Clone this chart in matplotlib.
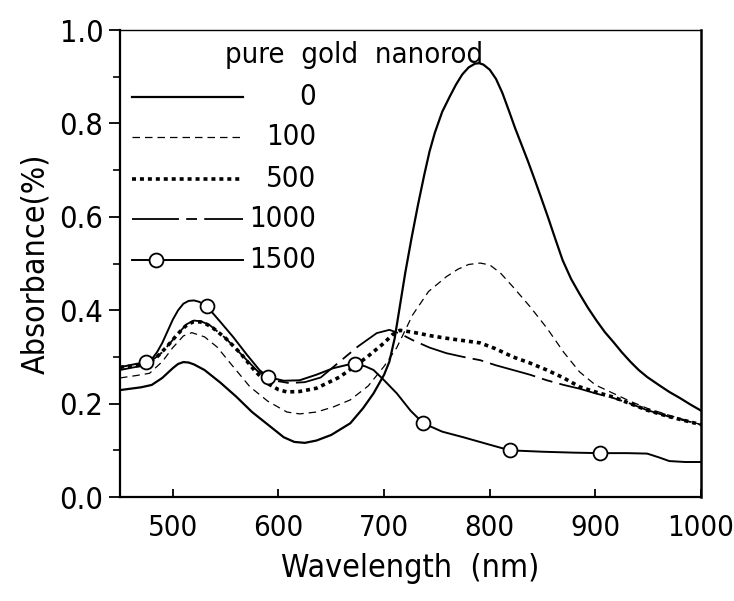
import matplotlib.pyplot as plt
import numpy as np
from matplotlib.lines import Line2D
from matplotlib import font_manager as fm

# look for a narrow sans like the original figure
fonts = fm.fontManager.ttflist
narrow = [f for f in fonts if f.name == 'Liberation Sans Narrow']
cond = [f for f in fonts if f.name == 'DejaVu Sans' and f.stretch == 'condensed']
if narrow:
    plt.rcParams['font.family'] = ['Liberation Sans Narrow', 'DejaVu Sans']
    fs = 24
elif cond:
    plt.rcParams['font.family'] = ['DejaVu Sans']
    plt.rcParams['font.stretch'] = 'condensed'
    fs = 22
else:
    plt.rcParams['font.family'] = ['Liberation Sans', 'DejaVu Sans']
    fs = 20

# pure gold nanorod, 0
wl_0 = [450, 470, 480, 490, 500, 505, 510, 515, 520, 530, 545, 560, 575, 590, 605, 615, 625, 636, 650,
        668, 680, 690, 700, 705, 710, 715, 720, 726, 732, 738, 743, 748, 755, 762, 768, 774, 780, 786,
        790, 794, 800, 806, 812, 818, 824, 830, 836, 842, 848, 855, 862, 869, 877, 885, 893, 901, 909,
        917, 925, 933, 941, 949, 960, 970, 980, 990, 1000]
abs_0 = [0.229, 0.235, 0.240, 0.255, 0.276, 0.285, 0.289, 0.288, 0.284, 0.272, 0.245, 0.215, 0.182,
         0.155, 0.128, 0.118, 0.116, 0.121, 0.133, 0.158, 0.190, 0.222, 0.262, 0.290, 0.340, 0.410,
         0.480, 0.555, 0.625, 0.690, 0.740, 0.780, 0.825, 0.857, 0.883, 0.905, 0.920, 0.928, 0.929,
         0.926, 0.915, 0.895, 0.865, 0.828, 0.790, 0.755, 0.720, 0.683, 0.645, 0.600, 0.553, 0.507,
         0.467, 0.435, 0.405, 0.378, 0.353, 0.332, 0.310, 0.290, 0.272, 0.257, 0.240, 0.225, 0.212,
         0.198, 0.185]

# 100
wl_100 = [450, 465, 478, 490, 500, 510, 518, 530, 542, 555, 573, 590, 608, 620, 636, 652, 668, 685, 700,
          712, 727, 742, 759, 770, 780, 791, 800, 810, 822, 838, 854, 870, 885, 900, 917, 933, 949, 970,
          1000]
abs_100 = [0.255, 0.260, 0.265, 0.290, 0.320, 0.345, 0.352, 0.343, 0.321, 0.285, 0.236, 0.205, 0.182,
           0.178, 0.182, 0.193, 0.208, 0.238, 0.280, 0.320, 0.390, 0.440, 0.472, 0.488, 0.498, 0.501,
           0.497, 0.480, 0.450, 0.408, 0.362, 0.310, 0.268, 0.240, 0.222, 0.205, 0.190, 0.175, 0.155]

# 500
wl_500 = [450, 475, 485, 494, 505, 512, 519, 526, 532, 538, 550, 564, 577, 589, 600, 608, 620, 636, 658,
          672, 684, 700, 708, 715, 727, 745, 759, 775, 791, 805, 822, 838, 854, 870, 885, 900, 917, 933,
          949, 970, 1000]
abs_500 = [0.278, 0.283, 0.300, 0.321, 0.350, 0.366, 0.375, 0.375, 0.370, 0.362, 0.340, 0.308, 0.272,
           0.244, 0.230, 0.225, 0.226, 0.233, 0.257, 0.280, 0.300, 0.330, 0.348, 0.357, 0.353, 0.345,
           0.340, 0.335, 0.330, 0.318, 0.300, 0.287, 0.272, 0.255, 0.236, 0.225, 0.214, 0.200, 0.186,
           0.172, 0.155]

# 1000
wl_1000 = [450, 475, 490, 505, 513, 520, 527, 535, 550, 565, 580, 595, 610, 625, 640, 658, 675, 693,
           705, 715, 727, 743, 759, 775, 791, 806, 822, 838, 854, 870, 885, 900, 917, 933, 949, 970, 1000]
abs_1000 = [0.272, 0.283, 0.310, 0.350, 0.370, 0.378, 0.376, 0.368, 0.340, 0.305, 0.270, 0.250, 0.244,
            0.246, 0.256, 0.290, 0.322, 0.351, 0.358, 0.350, 0.336, 0.320, 0.308, 0.300, 0.293, 0.282,
            0.272, 0.262, 0.250, 0.240, 0.232, 0.222, 0.212, 0.200, 0.186, 0.172, 0.155]

# 1500
wl_1500 = [450, 465, 475, 480, 485, 490, 495, 500, 505, 510, 515, 520, 525, 532, 545, 557, 570, 582,
           590, 605, 620, 636, 652, 665, 672, 682, 690, 700, 712, 725, 737, 755, 775, 800, 819, 850, 880,
           904, 930, 949, 960, 970, 985, 1000]
abs_1500 = [0.278, 0.285, 0.289, 0.295, 0.310, 0.330, 0.355, 0.380, 0.400, 0.414, 0.420, 0.421, 0.418,
            0.409, 0.375, 0.343, 0.305, 0.272, 0.257, 0.249, 0.250, 0.262, 0.276, 0.283, 0.285, 0.280,
            0.272, 0.250, 0.222, 0.185, 0.158, 0.140, 0.128, 0.112, 0.100, 0.097, 0.095, 0.094, 0.094,
            0.093, 0.085, 0.077, 0.075, 0.075]
circ_wl = [475, 532, 590, 672, 737, 819, 904]
circ_abs = [0.289, 0.409, 0.257, 0.285, 0.158, 0.100, 0.094]

labels = ["0", "100", "500", "1000", "1500"]
legend_title = "pure  gold  nanorod"

fig = plt.figure(figsize=(7.34, 6.01), dpi=100)
ax = fig.add_axes([0.1635, 0.173, 0.7916, 0.777])

styles = [
    dict(color="black", lw=1.6, ls="-"),
    dict(color="black", lw=0.9, dashes=(6, 4)),
    dict(color="black", lw=2.6, dashes=(1.1, 1.1)),
    dict(color="black", lw=1.3, dashes=(26, 4, 6, 4)),
    dict(color="black", lw=1.4, ls="-"),
]

ax.plot(wl_0, abs_0, **styles[0])
ax.plot(wl_100, abs_100, **styles[1])
ax.plot(wl_500, abs_500, **styles[2])
ax.plot(wl_1000, abs_1000, **styles[3])
ax.plot(wl_1500, abs_1500, **styles[4])
ax.plot(circ_wl, circ_abs, ls="none", marker="o", ms=10, mfc="white", mec="black", mew=1.3, zorder=5)

# hand-made legend, numbers right aligned
ax.text(0.181, 0.929, legend_title, transform=ax.transAxes, fontsize=fs - 1, va="baseline", ha="left")
rows = [0.857, 0.771, 0.681, 0.595, 0.507]
for lab, st, yy in zip(labels, styles, rows):
    ln = Line2D([0.021, 0.212], [yy, yy], transform=ax.transAxes, **st)
    ax.add_line(ln)
    ax.text(0.338, yy, lab, transform=ax.transAxes, fontsize=fs - 1, va="center", ha="right")
ax.plot([0.062], [rows[-1]], transform=ax.transAxes, marker="o", ms=10, mfc="white", mec="black", mew=1.3)

ax.set_xlim(450, 1000)
ax.set_ylim(0, 1.0)
ax.set_xticks([500, 600, 700, 800, 900, 1000])
ax.set_yticks(np.arange(0, 1.01, 0.2))
ax.set_yticks(np.arange(0.1, 1.0, 0.2), minor=True)
ax.yaxis.set_major_formatter(plt.FormatStrFormatter("%.1f"))
ax.tick_params(axis="y", which="major", direction="out", length=8, width=1.3, labelsize=fs, pad=4)
ax.tick_params(axis="y", which="minor", direction="out", length=5, width=1.2)
ax.tick_params(axis="x", which="major", direction="in", length=6, width=1.3, labelsize=fs - 1, pad=12)

for side in ["left", "bottom"]:
    ax.spines[side].set_linewidth(1.6)
ax.spines["top"].set_linewidth(1.0)
ax.spines["right"].set_linewidth(1.8)

ax.set_xlabel("Wavelength  (nm)", fontsize=fs + 1, labelpad=8)
ax.set_ylabel("Absorbance(%)", fontsize=fs + 1, labelpad=6)

fig.savefig("out.png", dpi=100)
